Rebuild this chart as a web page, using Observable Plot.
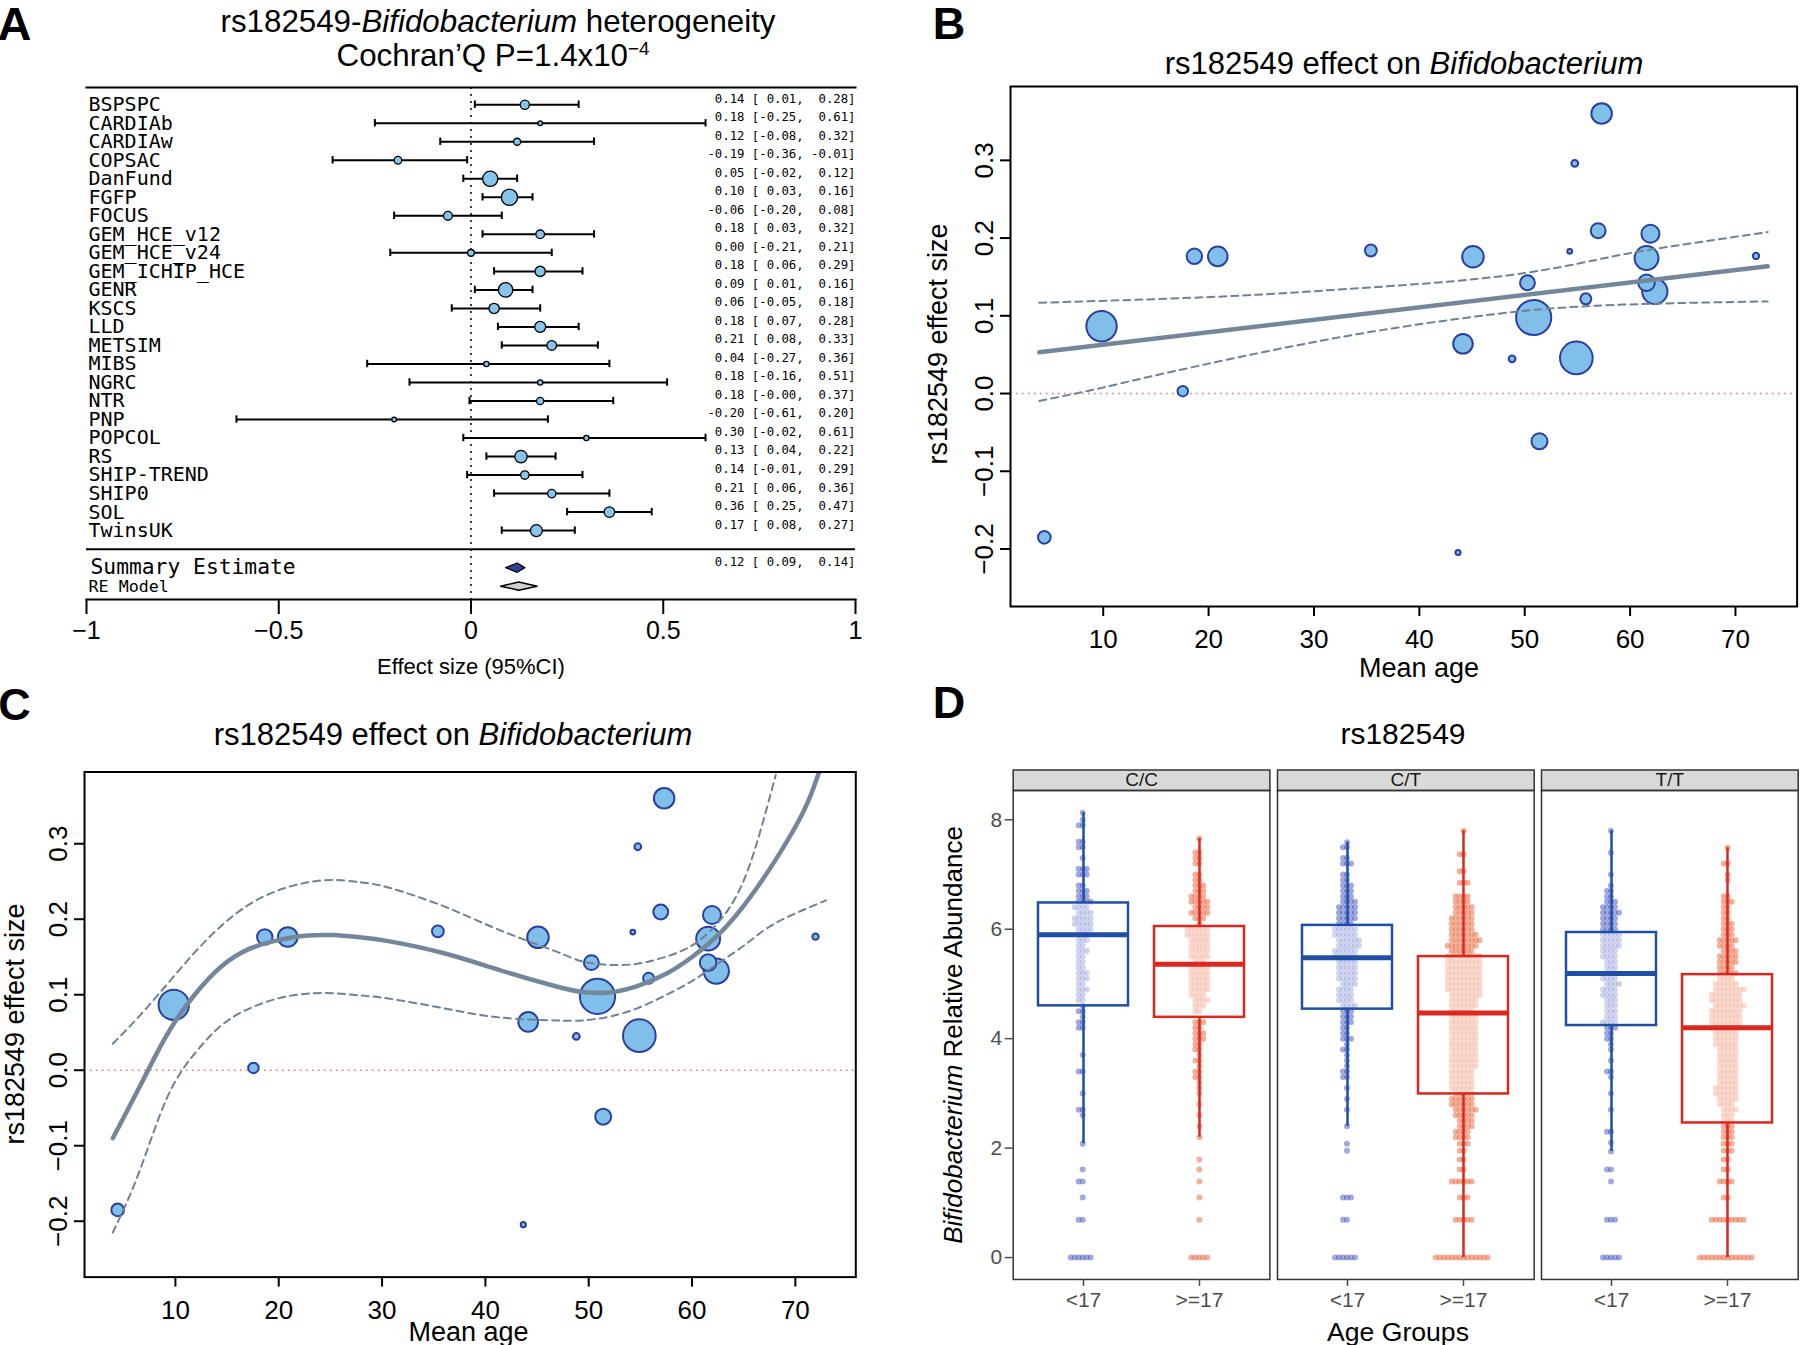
<!DOCTYPE html>
<html><head><meta charset="utf-8">
<script src="https://cdn.jsdelivr.net/npm/d3@7"></script>
<script src="https://cdn.jsdelivr.net/npm/@observablehq/plot@0.6"></script>
<style>
body{margin:0;background:#fff;}
#fig{position:relative;width:1800px;height:1345px;overflow:hidden;font-family:"Liberation Sans",Arial,sans-serif;color:#000;background:#fff;}
svg text{white-space:pre;}
.letter{font-family:"Liberation Sans Narrow","Liberation Sans",Arial,sans-serif;font-weight:bold;}
</style></head><body><div id="fig"></div>
<script>
// ---------------- DATA ----------------
const studies = ["BSPSPC","CARDIAb","CARDIAw","COPSAC","DanFund","FGFP","FOCUS","GEM_HCE_v12","GEM_HCE_v24","GEM_ICHIP_HCE","GENR","KSCS","LLD","METSIM","MIBS","NGRC","NTR","PNP","POPCOL","RS","SHIP-TREND","SHIP0","SOL","TwinsUK"];
const estimate = [0.14,0.18,0.12,-0.19,0.05,0.10,-0.06,0.18,0.00,0.18,0.09,0.06,0.18,0.21,0.04,0.18,0.18,-0.20,0.30,0.13,0.14,0.21,0.36,0.17];
const ciLow  = [0.01,-0.25,-0.08,-0.36,-0.02,0.03,-0.20,0.03,-0.21,0.06,0.01,-0.05,0.07,0.08,-0.27,-0.16,-0.004,-0.61,-0.02,0.04,-0.01,0.06,0.25,0.08];
const ciHigh = [0.28,0.61,0.32,-0.01,0.12,0.16,0.08,0.32,0.21,0.29,0.16,0.18,0.28,0.33,0.36,0.51,0.37,0.20,0.61,0.22,0.29,0.36,0.47,0.27];
const summaryCI = [0.09, 0.12, 0.14];
const reModelCI = [0.077, 0.124, 0.172];
const axisTicksA = [-1, -0.5, 0, 0.5, 1];

// mean age and effect, same study order
const meanAge = [61.56,54.27,55.8,4.41,54.9,50.85,51.4,18.65,17.55,20.87,9.84,44.14,45.09,61.93,48.8,71.95,35.4,43.67,54.75,62.35,50.26,56.97,57.3,61.56];
const bubbleEffect = [0.1425,0.183,0.1218,-0.185,0.0458,0.0978,-0.0615,0.1765,0.003,0.1765,0.0866,0.064,0.176,0.2056,0.0447,0.177,0.184,-0.2045,0.296,0.1313,0.1425,0.2095,0.3603,0.1743];
const ageTicks = [10,20,30,40,50,60,70];
const effTicks = [-0.2,-0.1,0,0.1,0.2,0.3];

// panel B: linear meta-regression
const linFit = [[3.93,0.053],[73.06,0.1637]];
const linUpper = [[3.93,0.1168],[19.9,0.124],[30.4,0.132],[41,0.142],[50,0.155],[56.8,0.172],[62.1,0.1855],[73.06,0.2078]];
const linLower = [[3.93,-0.0095],[9.3,0.0056],[14.6,0.0223],[25.1,0.053],[35.7,0.080],[46.25,0.1006],[56.8,0.113],[73.06,0.1185]];

// panel C: cubic meta-regression
const cubicFit = [[3.94,-0.090],[6.46,-0.024],[9.14,0.046],[11.8,0.099],[14.5,0.138],[17.2,0.161],[19.9,0.172],[22.5,0.178],[25.2,0.179],[27.9,0.176],[30.6,0.171],[36,0.155],[41.3,0.133],[46.7,0.1115],[49.4,0.1037],[52.0,0.1031],[54.7,0.1115],[57.4,0.127],[60.1,0.151],[62.8,0.183],[65.4,0.225],[68.1,0.279],[70.8,0.343],[72.3,0.395]];
const cubicUpper = [[3.94,0.035],[6.46,0.071],[9.14,0.113],[11.8,0.155],[14.5,0.192],[17.2,0.220],[19.9,0.238],[22.5,0.248],[25.2,0.252],[27.9,0.249],[30.6,0.242],[36,0.217],[41.3,0.186],[46.7,0.158],[49.4,0.144],[52,0.1396],[54.7,0.141],[57.4,0.150],[60.1,0.166],[62.8,0.200],[65.4,0.265],[68.1,0.391]];
const cubicLower = [[3.94,-0.215],[6.46,-0.136],[9.14,-0.038],[11.8,0.021],[14.5,0.060],[17.2,0.082],[19.9,0.095],[22.5,0.101],[25.2,0.102],[27.9,0.099],[30.6,0.095],[36,0.082],[41.3,0.070],[46.7,0.066],[49.4,0.066],[52,0.071],[54.7,0.082],[57.4,0.099],[60.1,0.119],[62.8,0.144],[65.4,0.169],[68.1,0.195],[72.95,0.225]];

// panel D: box statistics
const genotypes = ["C/C","C/T","T/T"];
const ageGroups = ["<17",">=17"];
const boxGenotype = ["C/C","C/C","C/T","C/T","T/T","T/T"];
const boxAge = ["<17",">=17","<17",">=17","<17",">=17"];
const boxQ1 = [4.60,4.39,4.54,2.99,4.24,2.46];
const boxMedian = [5.90,5.36,5.48,4.47,5.19,4.20];
const boxQ3 = [6.48,6.05,6.07,5.50,5.94,5.17];
const whiskerLow = [2.08,2.20,2.40,0,1.94,0];
const whiskerHigh = [8.13,7.66,7.59,7.80,7.80,7.49];
// panel D: sample values as [value, number of dots]
const ccYoung = [[0,6],[0.69,2],[1.1,1],[1.39,2],[1.61,1],[2.08,1],[2.6,1],[2.7,2],[3.0,1],[3.4,2],[3.7,1],[4.2,2],[4.3,2],[4.4,1],[4.5,2],[4.6,1],[4.7,2],[4.8,2],[4.9,3],[5.0,2],[5.1,3],[5.2,3],[5.3,2],[5.4,2],[5.5,2],[5.6,3],[5.7,2],[5.8,3],[5.9,3],[6.0,4],[6.1,5],[6.2,5],[6.3,4],[6.4,4],[6.5,4],[6.6,3],[6.7,3],[6.8,2],[7.0,3],[7.1,3],[7.3,1],[7.5,2],[7.6,2],[7.9,2],[8.0,1],[8.13,1]];
const ccOld = [[0,5],[0.69,1],[1.1,1],[1.39,1],[1.61,1],[1.79,1],[2.2,1],[2.4,1],[2.6,1],[2.8,1],[3.0,1],[3.1,1],[3.2,1],[3.3,2],[3.4,2],[3.5,1],[3.6,2],[3.7,1],[3.8,2],[3.9,2],[4.0,3],[4.1,3],[4.2,2],[4.3,3],[4.5,2],[4.6,3],[4.7,4],[4.8,4],[4.9,5],[5.0,5],[5.1,5],[5.2,5],[5.3,5],[5.4,3],[5.5,5],[5.6,5],[5.7,5],[5.8,5],[5.9,6],[6.0,6],[6.1,1],[6.2,3],[6.3,5],[6.4,4],[6.5,5],[6.6,4],[6.7,3],[6.8,3],[6.9,2],[7.0,2],[7.2,2],[7.3,2],[7.4,2],[7.66,1]];
const ctYoung = [[0,6],[0.69,2],[1.1,3],[1.95,1],[2.08,1],[2.4,1],[2.7,1],[2.9,1],[3.1,1],[3.3,2],[3.4,2],[3.5,1],[3.6,1],[3.7,1],[3.8,2],[3.9,1],[4.0,3],[4.1,2],[4.2,2],[4.3,3],[4.4,3],[4.5,3],[4.6,4],[4.7,4],[4.8,4],[4.9,4],[5.0,4],[5.1,5],[5.2,5],[5.3,5],[5.4,5],[5.5,6],[5.6,6],[5.7,6],[5.8,6],[5.9,6],[6.0,6],[6.1,4],[6.2,5],[6.3,5],[6.4,5],[6.5,4],[6.6,3],[6.7,3],[6.8,3],[6.9,2],[7.0,2],[7.2,3],[7.3,2],[7.5,2],[7.59,1]];
const ctOld = [[0,14],[0.69,5],[1.1,3],[1.39,6],[1.61,2],[1.79,2],[1.95,2],[2.08,3],[2.2,4],[2.3,4],[2.4,4],[2.5,4],[2.6,5],[2.7,6],[2.8,6],[2.9,6],[3.0,5],[3.1,6],[3.2,6],[3.3,6],[3.4,6],[3.5,7],[3.6,7],[3.7,7],[3.8,7],[3.9,7],[4.0,7],[4.1,7],[4.2,7],[4.3,7],[4.4,7],[4.5,6],[4.6,7],[4.7,7],[4.8,8],[4.9,9],[5.0,9],[5.1,9],[5.2,9],[5.3,9],[5.4,9],[5.5,9],[5.6,6],[5.7,8],[5.8,8],[5.9,7],[6.0,6],[6.1,6],[6.2,6],[6.3,5],[6.4,5],[6.5,4],[6.6,4],[6.85,3],[7.06,2],[7.37,2],[7.8,1]];
const ttYoung = [[0,5],[0.69,3],[1.39,1],[1.61,2],[1.94,1],[2.1,1],[2.3,2],[2.7,1],[3.0,1],[3.3,1],[3.4,2],[3.6,1],[3.8,1],[3.9,1],[4.0,2],[4.1,2],[4.2,3],[4.3,4],[4.4,3],[4.5,3],[4.6,3],[4.7,3],[4.8,4],[4.9,4],[5.0,4],[5.1,4],[5.2,3],[5.3,3],[5.4,3],[5.5,4],[5.6,4],[5.7,5],[5.8,5],[5.9,5],[6.0,4],[6.1,4],[6.2,4],[6.3,5],[6.4,4],[6.5,3],[6.6,2],[6.7,2],[6.8,1],[7.0,1],[7.4,1],[7.8,1]];
const ttOld = [[0,14],[0.69,9],[1.1,2],[1.39,4],[1.61,2],[1.79,2],[1.95,3],[2.08,3],[2.2,3],[2.3,3],[2.4,3],[2.5,3],[2.6,3],[2.7,4],[2.8,4],[2.9,5],[3.0,6],[3.1,6],[3.2,5],[3.3,5],[3.4,5],[3.5,5],[3.6,5],[3.7,5],[3.8,5],[3.9,6],[4.0,6],[4.1,6],[4.2,8],[4.3,8],[4.4,8],[4.5,8],[4.6,8],[4.7,8],[4.8,8],[4.9,8],[5.0,6],[5.1,4],[5.2,5],[5.3,4],[5.4,5],[5.5,5],[5.6,4],[5.7,4],[5.8,5],[5.9,3],[6.0,3],[6.1,3],[6.2,2],[6.3,2],[6.4,2],[6.5,3],[6.6,2],[6.9,1],[7.0,1],[7.2,2],[7.49,1]];

// ---------------- HELPERS ----------------
const SANS = '"Liberation Sans", Arial, Helvetica, sans-serif';
const MONO = '"DejaVu Sans Mono", "Liberation Mono", monospace';
const fig = document.getElementById("fig");
function put(node, left, top) {
  const w = document.createElement("div");
  w.style.cssText = `position:absolute;left:${left}px;top:${top}px;`;
  node.style.maxWidth = "none";
  w.appendChild(node);
  fig.appendChild(w);
}
function txt(html, cx, cy, size, extra = "", cls = "") {
  const d = document.createElement("div");
  if (cls) d.className = cls;
  d.innerHTML = html;
  d.style.cssText = `position:absolute;left:${cx}px;top:${cy}px;font-size:${size}px;line-height:1;white-space:nowrap;transform:translate(-50%,-50%) ${extra};`;
  fig.appendChild(d);
}
const f2 = v => (v < 0 ? "-" : "") + Math.abs(v).toFixed(2);
const ciText = (e, l, h) => (`${f2(e).padStart(5)} [${f2(l).padStart(5)}, ${f2(h).padStart(5)}]`).replace(/ /g, "\u00a0");

// ---------------- PANEL A ----------------
const rows = studies.map((s, i) => ({study: s, row: i, est: estimate[i], lo: ciLow[i], hi: ciHigh[i], prec: 1 / (ciHigh[i] - ciLow[i])}));
const sepRow = studies.length, sumRow = studies.length + 1, reRow = studies.length + 2;
const diamond = (ci, row, h) => [[ci[0], row], [ci[1], row - h], [ci[2], row], [ci[1], row + h], [ci[0], row]];

const plotA = Plot.plot({
  width: 900, height: 680, marginLeft: 86, marginRight: 45, marginTop: 87, marginBottom: 81,
  style: {fontFamily: SANS, fontSize: "25px", background: "transparent", overflow: "visible"},
  x: {domain: [-1, 1]},
  y: {domain: [26.72, -0.93], axis: null},
  r: {type: "linear", domain: d3.extent(rows, d => d.prec), range: [2.3, 8.1]},
  marks: [
    Plot.frame({anchor: "top", strokeWidth: 2}),
    Plot.frame({anchor: "bottom", strokeWidth: 2}),
    Plot.ruleY([sepRow], {strokeWidth: 2}),
    Plot.ruleX([0], {strokeDasharray: "2,5", strokeWidth: 1.5}),
    Plot.link(rows, {x1: "lo", x2: "hi", y1: "row", y2: "row", stroke: "black", strokeWidth: 2}),
    Plot.ruleX(rows, {x: "lo", y1: d => d.row - 0.2, y2: d => d.row + 0.2, strokeWidth: 2}),
    Plot.ruleX(rows, {x: "hi", y1: d => d.row - 0.2, y2: d => d.row + 0.2, strokeWidth: 2}),
    Plot.dot(rows, {x: "est", y: "row", r: "prec", fill: "#86c4ec", stroke: "black", strokeWidth: 1.3}),
    Plot.text(rows, {x: -1, y: "row", text: "study", textAnchor: "start", dx: 2, fontFamily: MONO, fontSize: 20}),
    Plot.text(rows, {x: 1, y: "row", text: d => ciText(d.est, d.lo, d.hi), textAnchor: "end", dy: -6, fontFamily: MONO, fontSize: 12.3}),
    Plot.text(["Summary Estimate"], {x: -1, y: sumRow, text: d => d, textAnchor: "start", dx: 4, fontFamily: MONO, fontSize: 21.3}),
    Plot.text(["RE Model"], {x: -1, y: reRow, text: d => d, textAnchor: "start", dx: 2, fontFamily: MONO, fontSize: 16.7}),
    Plot.text([summaryCI], {x: 1, y: sumRow, text: d => ciText(d[1], d[0], d[2]), textAnchor: "end", dy: -6, fontFamily: MONO, fontSize: 12.3}),
    Plot.line(diamond(summaryCI, sumRow, 0.25), {x: d => d[0], y: d => d[1], fill: "#2e4396", stroke: "black", strokeWidth: 1.3}),
    Plot.line(diamond(reModelCI, reRow, 0.22), {x: d => d[0], y: d => d[1], fill: "#d0d0d0", stroke: "black", strokeWidth: 1.5}),
    Plot.axisX({ticks: axisTicksA, tickFormat: d => (d < 0 ? "\u2212" : "") + Math.abs(d), tickSize: 15, tickPadding: 7, label: null, strokeWidth: 2, fontSize: 25})
  ]
});
put(plotA, 0, 0);

// ---------------- PANELS B & C ----------------
const bubbles = studies.map((s, i) => ({study: s, age: meanAge[i], eff: bubbleEffect[i], prec: 1 / (ciHigh[i] - ciLow[i])}));
function scatter({width, height, ml, mr, mt, mb, fit, upper, lower, fitCurve}) {
  return Plot.plot({
    width, height, marginLeft: ml, marginRight: mr, marginTop: mt, marginBottom: mb,
    style: {fontFamily: SANS, fontSize: "26px", background: "transparent", overflow: "visible"},
    x: {domain: [1.2, 75.85]},
    y: {domain: [-0.274, 0.395]},
    r: {type: "linear", domain: d3.extent(bubbles, d => d.prec), range: [2.4, 17.6]},
    marks: [
      Plot.ruleY([0], {stroke: "#f26b7a", strokeWidth: 1.5, strokeDasharray: "1.5,4.5"}),
      Plot.dot(bubbles, {x: "age", y: "eff", r: "prec", fill: "#80bfe9", stroke: "#2b3f9c", strokeWidth: 2}),
      Plot.line(upper, {x: d => d[0], y: d => d[1], stroke: "#6f8294", strokeWidth: 2, strokeDasharray: "7,5", curve: "natural", clip: true}),
      Plot.line(lower, {x: d => d[0], y: d => d[1], stroke: "#6f8294", strokeWidth: 2, strokeDasharray: "7,5", curve: "natural", clip: true}),
      Plot.line(fit, {x: d => d[0], y: d => d[1], stroke: "#74879a", strokeWidth: 4.5, curve: fitCurve, clip: true}),
      Plot.frame({stroke: "black", strokeWidth: 2}),
      Plot.axisX({ticks: ageTicks, tickSize: 10, tickPadding: 13, label: null, strokeWidth: 2, fontSize: 26}),
      Plot.axisY({ticks: effTicks, tickFormat: d3.format(".1f"), tickSize: 10, tickPadding: 8, tickRotate: -90, label: null, strokeWidth: 2, fontSize: 26})
    ]
  });
}
put(scatter({width: 870, height: 610, ml: 80, mr: 3.4, mt: 16, mb: 74, fit: linFit, upper: linUpper, lower: linLower, fitCurve: "linear"}), 930, 70);
put(scatter({width: 870, height: 605, ml: 84, mr: 14.7, mt: 31.5, mb: 68.4, fit: cubicFit, upper: cubicUpper, lower: cubicLower, fitCurve: "natural"}), 0, 740);

// ---------------- PANEL D ----------------
const BLUE = "#1f4ea3", RED = "#d8281f", BLUE_DOT = "#4454c0", RED_DOT = "#e8643a";
const expand = (g, age, pairs) => pairs.flatMap(([v, n]) => Array.from({length: n}, () => ({g, age, v})));
const youngDots = [...expand("C/C", "<17", ccYoung), ...expand("C/T", "<17", ctYoung), ...expand("T/T", "<17", ttYoung)];
const oldDots = [...expand("C/C", ">=17", ccOld), ...expand("C/T", ">=17", ctOld), ...expand("T/T", ">=17", ttOld)];
const boxes = boxGenotype.map((g, i) => ({g, age: boxAge[i], q1: boxQ1[i], med: boxMedian[i], q3: boxQ3[i], lo: whiskerLow[i], hi: whiskerHigh[i], col: boxAge[i] === "<17" ? BLUE : RED}));

const dLeft = 1012.7, dRight = 1797.8, dGap = 7.5, dTop = 740, dH = 605, dMT = 50, dMB = 66;
const facetW = (dRight - dLeft - 2 * dGap) / 3;
const xPadIn = 0.22, xPadOut = 0.21;
const xStep = facetW / (ageGroups.length - xPadIn + 2 * xPadOut);
const xBand = (1 - xPadIn) * xStep;
const firstCenter = xPadOut * xStep + xBand / 2;
// dodge output is shifted by half a band (band x scale), so compensate
const dxYoung = firstCenter - facetW / 2 - xBand / 2, dxOld = dxYoung + xStep;
const innerH = dH - dMT - dMB;

genotypes.forEach((g, i) => {
  const ml = i === 0 ? dLeft - 930 : 1, mr = 1;
  const plot = Plot.plot({
    width: facetW + ml + mr, height: dH, marginLeft: ml, marginRight: mr, marginTop: dMT, marginBottom: dMB,
    style: {fontFamily: SANS, fontSize: "21px", background: "transparent", overflow: "visible"},
    x: {type: "band", domain: ageGroups, paddingInner: xPadIn, paddingOuter: xPadOut},
    y: {domain: [-0.40, 8.535], ...(i === 0 ? {} : {axis: null})},
    color: {type: "identity"},
    marks: [
      Plot.frame({fill: "#d9d9d9", stroke: "#333333", strokeWidth: 1.5, insetTop: -20.5, insetBottom: innerH}),
      Plot.text([g], {text: d => d, frameAnchor: "top", lineAnchor: "middle", dy: -10.25, fontSize: 19, fill: "#1a1a1a"}),
      Plot.dot(youngDots.filter(d => d.g === g), Plot.dodgeX({anchor: "middle", padding: 1}, {y: "v", r: 1.5, fill: "none", stroke: BLUE_DOT, strokeOpacity: 0.5, strokeWidth: 3, dx: dxYoung})),
      Plot.dot(oldDots.filter(d => d.g === g), Plot.dodgeX({anchor: "middle", padding: 1}, {y: "v", r: 1.5, fill: "none", stroke: RED_DOT, strokeOpacity: 0.5, strokeWidth: 3, dx: dxOld})),
      Plot.barY(boxes.filter(d => d.g === g), {x: "age", y1: "q1", y2: "q3", fill: "white", fillOpacity: 0.5, stroke: "col", strokeWidth: 2.5}),
      Plot.ruleX(boxes.filter(d => d.g === g), {x: "age", y1: "q3", y2: "hi", stroke: "col", strokeWidth: 2.5}),
      Plot.ruleX(boxes.filter(d => d.g === g), {x: "age", y1: "lo", y2: "q1", stroke: "col", strokeWidth: 2.5}),
      Plot.tickY(boxes.filter(d => d.g === g), {x: "age", y: "med", stroke: "col", strokeWidth: 5}),
      Plot.frame({stroke: "#333333", strokeWidth: 1.5}),
      i === 0 ? Plot.axisY({ticks: [0, 2, 4, 6, 8], tickSize: 8, tickPadding: 3, label: null, color: "#4d4d4d", strokeWidth: 1.5, fontSize: 21}) : null,
      Plot.axisX({tickSize: 7, tickPadding: 6, label: null, color: "#4d4d4d", strokeWidth: 1.5, fontSize: 21})
    ]
  });
  put(plot, dLeft + i * (facetW + dGap) - ml, dTop);
});

// ---------------- TEXT ----------------
txt("A", 14.5, 22.5, 47, "", "letter");
txt("B", 949, 22.5, 45, "", "letter");
txt("C", 14.5, 704, 45, "", "letter");
txt("D", 949, 702, 45, "", "letter");
txt("rs182549-<i>Bifidobacterium</i> heterogeneity", 498, 21.5, 31.3);
txt("Cochran\u2019Q P=1.4x10<sup style='font-size:0.6em;vertical-align:0.6em'>\u22124</sup>", 493, 56, 31.3);
txt("Effect size (95%CI)", 471, 667, 22);
txt("rs182549 effect on <i>Bifidobacterium</i>", 1404, 63, 31);
txt("rs182549 effect size", 938, 344, 27, "rotate(-90deg)");
txt("Mean age", 1419, 668, 27);
txt("rs182549 effect on <i>Bifidobacterium</i>", 453, 733.5, 31);
txt("rs182549 effect size", 15, 1024, 27, "rotate(-90deg)");
txt("Mean age", 468.5, 1332, 27);
txt("rs182549", 1403, 733.5, 30);
txt("<i>Bifidobacterium</i> Relative Abundance", 953, 1035, 26, "rotate(-90deg)");
txt("Age Groups", 1398, 1332, 26.6);
</script></body></html>
